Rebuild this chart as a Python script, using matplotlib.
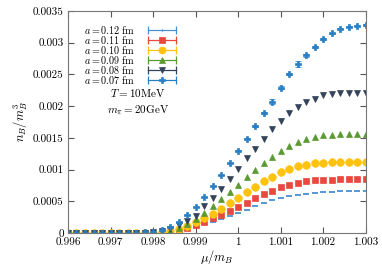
import numpy as np
import matplotlib
matplotlib.use("Agg")
import matplotlib.pyplot as plt
from matplotlib.lines import Line2D
from matplotlib.legend_handler import HandlerLine2D

plt.rcParams['mathtext.fontset'] = 'cm'
plt.rcParams['font.family'] = ['cmr10', 'DejaVu Serif']
plt.rcParams['axes.formatter.use_mathtext'] = True

mu = np.round(np.arange(36) * 0.0002 + 0.996, 4)

n_012 = [0, 0, 0, 0, 0, 0, 0, 0, 0, 0, 0.000005, 0.00001, 0.00002, 0.00004, 0.00007, 0.00010,
         0.00014, 0.00018, 0.00022, 0.00027, 0.00032, 0.00037, 0.00043, 0.00047, 0.00052, 0.00055,
         0.00058, 0.00060, 0.00062, 0.00063, 0.00064, 0.00065, 0.00066, 0.00066, 0.00066, 0.00066]
n_011 = [0, 0, 0, 0, 0, 0, 0, 0, 0, 0, 0.000005, 0.00001, 0.00002, 0.00004, 0.00008, 0.00012,
         0.00017, 0.00023, 0.00028, 0.00035, 0.00041, 0.00048, 0.00055, 0.00061, 0.00067, 0.00072,
         0.00076, 0.00079, 0.00082, 0.00083, 0.00084, 0.00084, 0.00085, 0.00085, 0.00085, 0.00085]
n_010 = [0, 0, 0, 0, 0, 0, 0, 0, 0, 0, 0.000005, 0.00001, 0.00003, 0.00006, 0.00011, 0.00017,
         0.00023, 0.00030, 0.00038, 0.00047, 0.00056, 0.00065, 0.00073, 0.00082, 0.00089, 0.00096,
         0.00101, 0.00105, 0.00108, 0.00110, 0.00111, 0.00112, 0.00112, 0.00112, 0.00112, 0.00112]
n_009 = [0, 0, 0, 0, 0, 0, 0, 0, 0, 0, 0.00001, 0.00002, 0.00004, 0.00008, 0.00014, 0.00022,
         0.00032, 0.00043, 0.00053, 0.00064, 0.00076, 0.00088, 0.00099, 0.00111, 0.00120, 0.00130,
         0.00138, 0.00144, 0.00148, 0.00152, 0.00155, 0.00155, 0.00156, 0.00156, 0.00156, 0.00156]
n_008 = [0, 0, 0, 0, 0, 0, 0, 0, 0, 0, 0.00001, 0.00003, 0.00007, 0.00013, 0.00019, 0.00027,
         0.00043, 0.00055, 0.00070, 0.00085, 0.00101, 0.00118, 0.00133, 0.00148, 0.00164, 0.00177,
         0.00189, 0.00199, 0.00207, 0.00212, 0.00217, 0.00219, 0.00220, 0.00221, 0.00221, 0.00221]
n_007 = [0, 0, 0, 0, 0, 0, 0, 0, 0, 0.00001, 0.00002, 0.00005, 0.00009, 0.00018, 0.00028, 0.00041,
         0.00057, 0.00074, 0.00092, 0.00111, 0.00130, 0.00149, 0.00169, 0.00189, 0.00207, 0.00229,
         0.00251, 0.00266, 0.00280, 0.00293, 0.00306, 0.00315, 0.00322, 0.00325, 0.00327, 0.00328]
err_007 = [0] * 20 + [0.00001, 0.00001, 0.00002, 0.00002, 0.00004, 0.00002,
                      0.00002, 0.00005, 0.00002, 0.00001, 0.00001, 0.00001, 0.00001, 0.00001, 0.00001, 0.00001]

labels = [r'$a = 0.12\ \mathrm{fm}$', r'$a = 0.11\ \mathrm{fm}$', r'$a = 0.10\ \mathrm{fm}$',
          r'$a = 0.09\ \mathrm{fm}$', r'$a = 0.08\ \mathrm{fm}$', r'$a = 0.07\ \mathrm{fm}$']
colors = ['#4a90d0', '#e8483e', '#ffc20e', '#5a9a30', '#34435a', '#2a7fc4']
markers = ['_', 's', 'o', '^', 'v', 'P']
legend_markers = ['.', 's', 'o', '^', 'v', 'P']
msizes = [4, 5, 5.5, 4.5, 4.5, 4.2]
legend_msizes = [2, 5, 5, 4, 4, 4]
series = [n_012, n_011, n_010, n_009, n_008, n_007]
errs = [None, None, None, None, None, err_007]

xticks = [0.996, 0.997, 0.998, 0.999, 1.0, 1.001, 1.002, 1.003]
xticklabels = ['0.996', '0.997', '0.998', '0.999', '1', '1.001', '1.002', '1.003']
yticks = [0, 0.0005, 0.001, 0.0015, 0.002, 0.0025, 0.003, 0.0035]
yticklabels = ['0', '0.0005', '0.001', '0.0015', '0.002', '0.0025', '0.003', '0.0035']

fig = plt.figure(figsize=(3.82, 2.67), dpi=100)
ax = fig.add_axes([0.178, 0.127, 0.779, 0.832])

handles = []
hmap = {}
for y, lab, c, m, ms, e, lm, lms in zip(series, labels, colors, markers, msizes, errs,
                                        legend_markers, legend_msizes):
    ax.errorbar(mu, y, yerr=e, fmt=m, color=c, ms=ms, mew=1.3 if m == '_' else 0.5,
                ecolor=c, elinewidth=0.8, capsize=2, capthick=0.8)
    cap_line = Line2D([], [], color=c, lw=0.9, marker='|', ms=6, mew=0.9)
    mark = Line2D([], [], color=c, marker=lm, ls='none', ms=lms, mew=0.5)
    hmap[cap_line] = HandlerLine2D(numpoints=2)
    hmap[mark] = HandlerLine2D(numpoints=1)
    handles.append((cap_line, mark))

ax.set_xlim(0.996, 1.003)
ax.set_ylim(0, 0.0035)
ax.set_xticks(xticks)
ax.set_xticklabels(xticklabels)
ax.set_yticks(yticks)
ax.set_yticklabels(yticklabels)
ax.tick_params(direction='in', top=True, right=True, labelsize=8, length=4, color='#555555', pad=3)
for s in ax.spines.values():
    s.set_color('#777777')
    s.set_linewidth(0.8)

ax.set_xlabel(r'$\mu/m_B$', fontsize=9, labelpad=1)
ax.set_ylabel(r'$n_B/m_B^3$', fontsize=9, labelpad=2)

leg = ax.legend(handles, labels, handler_map=hmap, loc='upper left',
                bbox_to_anchor=(0.035, 0.97), fontsize=7.3, frameon=False,
                markerfirst=False, labelspacing=-0.2, handlelength=3.4, handleheight=0.5,
                handletextpad=0.9, borderaxespad=0.2)

ax.text(0.235, 0.63, r'$T = 10\mathrm{MeV}$', transform=ax.transAxes, ha='center', va='center', fontsize=8)
ax.text(0.235, 0.555, r'$m_\pi = 20\mathrm{GeV}$', transform=ax.transAxes, ha='center', va='center', fontsize=8)

fig.savefig('out.png', dpi=100)
